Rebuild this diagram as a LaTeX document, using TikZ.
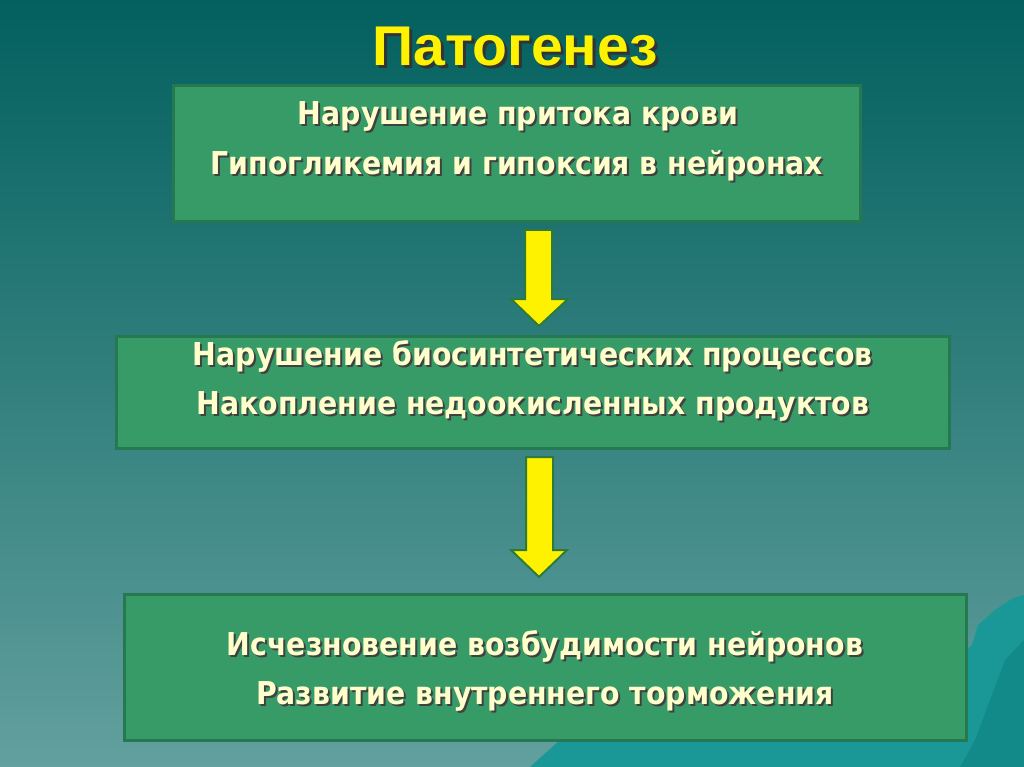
\documentclass[tikz,border=0pt]{standalone}
\usepackage{fontspec}
\newfontfamily\boxfont{DejaVu Sans Condensed}
\newfontfamily\titlefont{Liberation Sans}[FakeStretch=1.02]
\definecolor{bgtop}{HTML}{02605E}
\definecolor{bgbot}{HTML}{62A09E}
\definecolor{boxfill}{HTML}{379B68}
\definecolor{boxline}{HTML}{267850}
\definecolor{txt}{HTML}{FFFFCC}
\definecolor{mount}{HTML}{1A9897}
\definecolor{mountd}{HTML}{138A8A}
\definecolor{arrline}{HTML}{2E7A3A}
\tikzset{
  x=1pt,y=-1pt,
  stepbox/.style={draw=boxline,line width=3pt,fill=boxfill},
  ltext/.style={font=\boxfont\bfseries\fontsize{31.5}{36}\selectfont,text=txt,inner sep=0pt,anchor=center},
  lshadow/.style={font=\boxfont\bfseries\fontsize{31.5}{36}\selectfont,text=black!75,inner sep=0pt,anchor=center},
  yarrow/.style={fill=yellow,draw=arrline,line width=2pt,line join=miter}
}
\begin{document}
\begin{tikzpicture}
\useasboundingbox (0,0) rectangle (1024,767);
\shade[top color=bgtop,bottom color=bgbot] (0,0) rectangle (1024,767);
% mountains
\fill[mount] (1024,595) -- (1013,598) -- (995,610) -- (978,625) -- (972,645) -- (966,650) -- (966,740) -- (560,740) -- (530,767) -- (1024,767) -- cycle;
\fill[mountd] (1024,640) -- (1005,660) -- (990,700) -- (975,740) -- (960,767) -- (1024,767) -- cycle;
% title
\node[inner sep=0pt,text=black!80,font=\titlefont\bfseries\fontsize{56}{60}\selectfont] (titsh) at (518,50) {Патогенез};
\node[inner sep=0pt,text=yellow,font=\titlefont\bfseries\fontsize{56}{60}\selectfont] (title) at (515,47) {Патогенез};
% boxes
\node[stepbox,minimum width=687,minimum height=136,anchor=north west] (b1) at (172,84) {};
\node[stepbox,minimum width=833,minimum height=112,anchor=north west] (b2) at (115,335) {};
\node[stepbox,minimum width=842,minimum height=146,anchor=north west] (b3) at (123,593) {};
% texts
\node[lshadow] at (520,118) {Нарушение притока крови};
\node[ltext] (t11) at (518,116) {Нарушение притока крови};
\node[lshadow] at (519,168) {Гипогликемия и гипоксия в нейронах};
\node[ltext] (t12) at (517,166) {Гипогликемия и гипоксия в нейронах};
\node[lshadow] at (535,358) {Нарушение биосинтетических процессов};
\node[ltext] (t21) at (533,356) {Нарушение биосинтетических процессов};
\node[lshadow] at (535,408) {Накопление недоокисленных продуктов};
\node[ltext] (t22) at (533,406) {Накопление недоокисленных продуктов};
\node[lshadow] at (547,648) {Исчезновение возбудимости нейронов};
\node[ltext] (t31) at (545,646) {Исчезновение возбудимости нейронов};
\node[lshadow] at (547,698) {Развитие внутреннего торможения};
\node[ltext] (t32) at (545,696) {Развитие внутреннего торможения};
% arrows
\draw[yarrow] (525,230) -- (552,230) -- (552,299) -- (568,299) -- (539,326) -- (511,299) -- (525,299) -- cycle;
\draw[yarrow] (526,457) -- (553,457) -- (553,550) -- (567,550) -- (539,577) -- (511,550) -- (526,550) -- cycle;
\end{tikzpicture}
\end{document}
